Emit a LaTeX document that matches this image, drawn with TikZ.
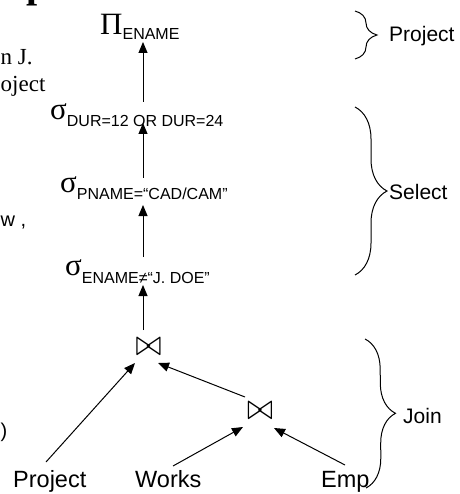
\documentclass[tikz,border=0pt]{standalone}
\usepackage{fontspec}
\setmainfont{Liberation Serif}
\setsansfont{Liberation Sans}
\usetikzlibrary{arrows.meta,calc,decorations.pathreplacing}
\newcommand\opsub[2][7pt]{\raisebox{-#1}{\sffamily\fontsize{16}{16}\selectfont #2}}
\newcommand\joinsym{\resizebox{26pt}{17pt}{$\bowtie$}}
\begin{document}
\begin{tikzpicture}[x=1pt,y=-1pt,
  op/.style={anchor=base west,inner sep=0pt,font=\fontsize{31}{31}\selectfont},
  leaf/.style={anchor=base west,inner sep=0pt,font=\sffamily\fontsize{23.5}{24}\selectfont},
  side/.style={anchor=base west,inner sep=0pt,font=\sffamily\fontsize{21}{22}\selectfont},
  frag/.style={anchor=base west,inner sep=0pt,font=\fontsize{23}{23}\selectfont},
  sfrag/.style={anchor=base west,inner sep=0pt,font=\sffamily\fontsize{20}{20}\selectfont},
  joinop/.style={inner sep=0pt},
  arr/.style={-{Triangle[width=9pt,length=11pt]},line width=1pt},
  brc/.style={decorate,decoration={brace,amplitude=#1},line width=1pt}]
\useasboundingbox (0,0) rectangle (459,494);
\clip (0,0) rectangle (459,494);
% cut-off fragments of surrounding text
\node[anchor=base west,inner sep=0pt,font=\bfseries\fontsize{40}{40}\selectfont] (tp) at (26,-2) {p};
\node[frag] (f1) at (0.5,65) {n J.};
\node[frag] (f2) at (0.5,92) {oject};
\node[sfrag] (f3) at (0.5,226) {w ,};
\node[sfrag] (f4) at (0.5,437) {)};
% operators
\node[op] (pi) at (100,35) {Π\opsub[5pt]{ENAME}};
\node[op] (s1) at (50,120) {σ\opsub{DUR=12 OR DUR=24}};
\node[op] (s2) at (60,192) {σ\opsub{PNAME=“CAD/CAM”}};
\node[op] (s3) at (65,275) {σ\opsub[8pt]{ENAME≠“J. DOE”}};
\node[joinop] (j1) at (148.5,346.5) {\joinsym};
\node[joinop] (j2) at (260,410.5) {\joinsym};
% relations
\node[leaf] (pr) at (13,487) {Project};
\node[leaf] (wk) at (135,487) {Works};
\node[leaf] (em) at (321,487) {Emp};
% arrows
\draw[arr] ($(s1.base west)+(93,-18)$) -- ($(pi.base west)+(43,7)$);
\draw[arr] ($(s2.base west)+(83,-14)$) -- ($(s1.base west)+(93,3)$);
\draw[arr] ($(s3.base west)+(78,-18)$) -- ($(s2.base west)+(83,13)$);
\draw[arr] ($(j1.center)+(-5.5,-16.5)$) -- ($(s3.base west)+(78,10)$);
\draw[arr] ($(pr.base west)+(33,-25)$) -- ($(j1.center)+(-13.5,16.5)$);
\draw[arr] ($(j2.center)+(-15,-13.5)$) -- ($(j1.center)+(9.5,16.5)$);
\draw[arr] ($(wk.base west)+(38,-21)$) -- ($(j2.center)+(-17,16.5)$);
\draw[arr] ($(em.base west)+(24,-22)$) -- ($(j2.center)+(14,17.5)$);
% braces and labels
\coordinate (b1a) at (355,11);
\coordinate (b1b) at (355,59);
\draw[brc=22pt] (b1a) -- (b1b);
\node[side] (lp) at (389,42) {Project};
\coordinate (b2a) at (355,107);
\coordinate (b2b) at (355,275);
\draw[brc=32pt] (b2a) -- (b2b);
\node[side] (ls) at (389,200) {Select};
\coordinate (b3a) at (365,339);
\coordinate (b3b) at (366,488);
\draw[brc=30pt] (b3a) -- (b3b);
\node[side] (lj) at (403,423) {Join};
\end{tikzpicture}
\end{document}
